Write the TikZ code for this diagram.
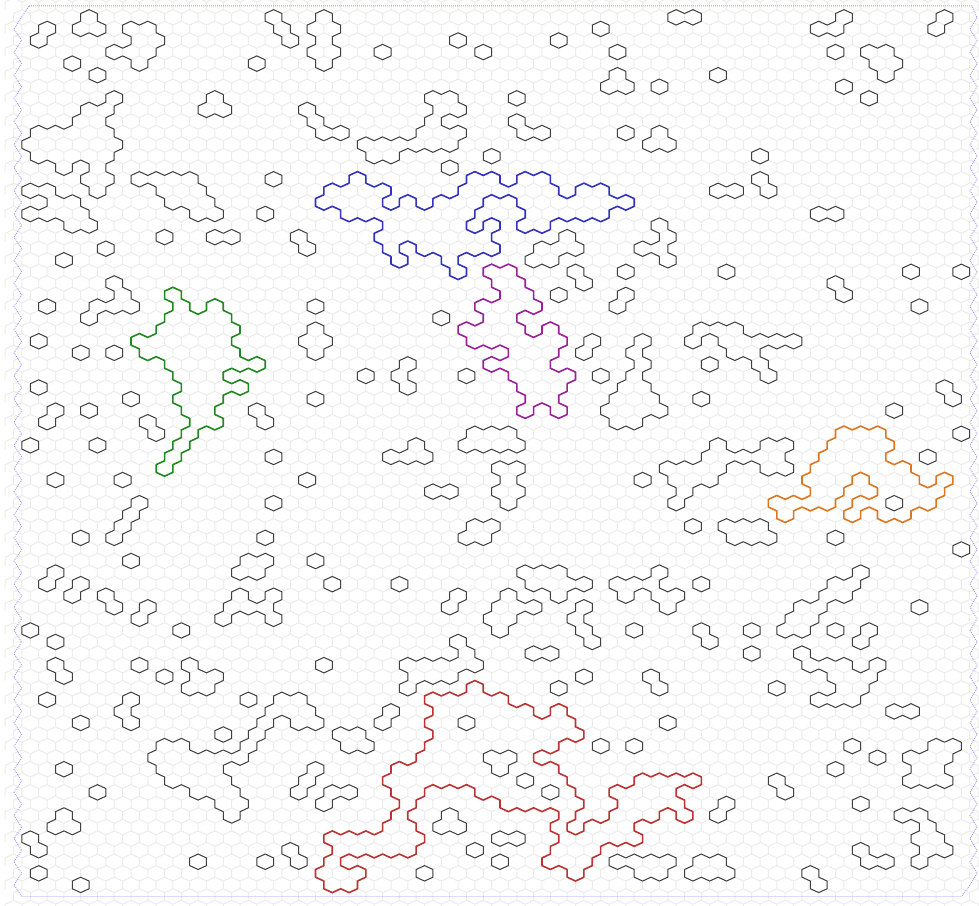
\documentclass[tikz,border=0pt]{standalone}
\definecolor{gridgray}{HTML}{ECECEC}
\definecolor{clblack}{HTML}{404040}
\definecolor{clblue}{HTML}{3333BB}
\definecolor{clpurple}{HTML}{992299}
\definecolor{clgreen}{HTML}{228822}
\definecolor{clorange}{HTML}{DD7722}
\definecolor{clred}{HTML}{BB3333}
\definecolor{clborder}{HTML}{9999FF}
\newcount\hexid
\newcount\ci
\newcount\cj
\def\rowsdo#1/#2/#3,{\ifnum#1<0 \else\rowact{\number#1}{#2}{#3}\expandafter\rowsdo\fi}
\def\markrow#1#2#3{\ci=#2\relax\loop\ifnum\ci<\numexpr#3+1\relax
  \expandafter\gdef\csname H\the\hexid:\the\ci:#1\endcsname{}\advance\ci2\relax\repeat}
\def\seg#1#2#3#4{\pgfpathmoveto{\pgfqpoint{#1}{#2}}\pgfpathlineto{\pgfqpoint{#3}{#4}}}
\def\hexdims#1{%
  \edef\cx{\the\dimexpr5.2pt+8.387pt*\ci\relax}%
  \edef\cy{\the\dimexpr-5.8pt-11.567pt*#1\relax}%
  \edef\xl{\the\dimexpr\cx-8.387pt\relax}%
  \edef\xr{\the\dimexpr\cx+8.387pt\relax}%
  \edef\yt{\the\dimexpr\cy+7.711pt\relax}%
  \edef\yu{\the\dimexpr\cy+3.856pt\relax}%
  \edef\yd{\the\dimexpr\cy-3.856pt\relax}%
  \edef\yb{\the\dimexpr\cy-7.711pt\relax}}
\def\nbr#1#2#3{\ifcsname H\the\hexid:\the\numexpr\ci+(#2)\relax:\the\numexpr#1+(#3)\relax\endcsname\expandafter\nbrskip\else\expandafter\nbrdo\fi}
\def\nbrskip#1{}
\def\nbrdo#1{#1}
\def\drawrow#1#2#3{\ci=#2\relax\loop\ifnum\ci<\numexpr#3+1\relax
  \hexdims{#1}%
  \nbr{#1}{2}{0}{\seg\xr\yu\xr\yd}%
  \nbr{#1}{-2}{0}{\seg\xl\yu\xl\yd}%
  \nbr{#1}{1}{-1}{\seg\cx\yt\xr\yu}%
  \nbr{#1}{-1}{-1}{\seg\xl\yu\cx\yt}%
  \nbr{#1}{1}{1}{\seg\cx\yb\xr\yd}%
  \nbr{#1}{-1}{1}{\seg\xl\yd\cx\yb}%
  \advance\ci2\relax\repeat}
\newcommand\cluster[3]{\global\advance\hexid1\relax
  \let\rowact\markrow\rowsdo#3,-1/0/0,%
  \begin{pgfscope}\pgfsetstrokecolor{#1}\pgfsetlinewidth{#2}\pgfsetroundcap\pgfsetroundjoin
  \let\rowact\drawrow\rowsdo#3,-1/0/0,%
  \pgfusepath{stroke}\end{pgfscope}}
\def\gridrows{%
  \begin{pgfscope}\pgfsetstrokecolor{gridgray}\pgfsetlinewidth{1pt}%
  \cj=0\relax
  \loop\ifnum\cj<79\relax
    \ifodd\cj\ci=2\relax\else\ci=1\relax\fi
    \hexdims{\cj}\seg\xl\yu\xl\yd
    \gridcells
    \pgfusepath{stroke}%
    \advance\cj1\relax
  \repeat
  \end{pgfscope}}
\def\gridcells{\ifnum\ci<117\relax
    \hexdims{\cj}%
    \pgfpathmoveto{\pgfqpoint\xl\yu}\pgfpathlineto{\pgfqpoint\cx\yt}%
    \pgfpathlineto{\pgfqpoint\xr\yu}\pgfpathlineto{\pgfqpoint\xr\yd}%
    \advance\ci2\relax
    \expandafter\gridcells\fi}
\def\borderzig#1#2{\pgfpathlineto{\pgfqpoint{\ifodd\cj #2\else #1\fi pt}{\dimexpr-5.8pt-11.567pt*\cj\relax}}}
\begin{document}
\begin{tikzpicture}[x=1pt,y=1pt]
\useasboundingbox (0,0) rectangle (979,-905);
\clip (0,0) rectangle (979,-905);
\fill[white] (0,0) rectangle (979,-905);
\gridrows
\begin{pgfscope}
\pgfsetstrokecolor{clborder}\pgfsetlinewidth{0.9pt}\pgfsetdash{{0.9pt}{1.1pt}}{0pt}
\pgfpathmoveto{\pgfqpoint{29pt}{-5.8pt}}
\pgfpathlineto{\pgfqpoint{971.7pt}{-5.8pt}}
\cj=1\relax
\loop\ifnum\cj<77\relax\borderzig{970}{977}\advance\cj1\relax\repeat
\pgfpathlineto{\pgfqpoint{961.7pt}{-896.5pt}}
\pgfpathlineto{\pgfqpoint{21.7pt}{-896.5pt}}
\cj=76\relax
\loop\ifnum\cj>1\relax\borderzig{14}{21.7}\advance\cj-1\relax\repeat
\pgfpathclose
\pgfusepath{stroke}
\end{pgfscope}
\cluster{clblack}{1pt}{2/5/5,3/4/4,1/10/10,2/9/11,2/15/17,3/16/18,4/13/17,5/16/16,5/8/8,6/11/11,
8/13/13,9/10/12,10/9/11,11/4/12,12/3/13,13/4/12,14/7/7,14/11/11,15/10/12,16/11/11,
16/3/5,17/6/8,18/3/9,19/8/10,15/16/22,16/19/23,17/20/24,18/23/25,8/25/25,9/24/26,
15/32/32,18/31/31,
20/19/19,20/25/27,20/35/35,21/36/36,21/12/12,22/7/7,24/13/13,25/14/14,26/11/15,27/10/10,
26/5/5,29/4/4,30/9/9,30/13/13,33/4/4,34/15/15,35/6/6,36/5/5,35/10/10,36/17/17,37/18/18,38/3/3,38/11/11,41/6/6,41/14/14,39/32/32,43/32/32,41/36/36,35/30/30,36/31/31,26/37/37,34/37/37,
43/16/16,44/15/15,45/14/14,46/13/13,46/9/9,46/31/31,48/15/15,48/37/37,48/29/31,49/28/30,
49/6/6,50/5/5,50/9/9,51/8/8,51/12/12,52/13/13,52/17/17,53/16/16,50/39/39,
51/28/28,51/32/32,52/27/31,53/26/26,53/32/32,54/3/3,54/21/21,55/6/6,57/6/6,58/7/7,57/16/16,58/19/19,57/38/38,
57/22/22,58/23/25,59/22/24,60/5/5,60/29/29,60/15/15,61/14/14,62/15/15,62/9/9,63/26/26,
60/33/35,61/32/36,62/31/31,62/35/37,63/30/30,64/19/21,64/29/29,65/18/28,66/19/25,67/20/26,68/23/27,69/26/28,70/27/27,
66/7/7,68/11/11,66/37/37,67/36/36,68/35/35,68/39/41,69/38/38,61/46/46,62/45/45,63/40/42,64/41/43,
70/7/7,71/6/8,72/3/3,73/4/4,74/23/23,74/31/31,75/4/4,76/9/9,73/34/34,74/35/35,
62/55/55,65/58/60,66/59/59,67/62/62,68/65/65,70/53/53,71/52/54,72/59/61,73/56/56,74/59/59,75/50/50,64/71/71,64/75/75,59/66/66,58/69/69,62/79/79,58/77/77,59/78/78,56/63/65,
55/54/54,56/55/55,57/48/56,58/49/53,59/48/48,74/73/79,75/76/78,74/83/85,75/82/86,69/86/86,70/85/85,
38/49/49,39/46/50,37/56/60,38/55/61,40/59/61,41/60/60,42/59/61,43/60/60,42/51/53,45/56/58,46/55/57,50/47/47,51/54/54,52/53/53,51/60/60,52/59/63,53/58/60,54/59/59,
49/62/66,50/63/69,51/66/66,52/69/69,53/68/68,54/69/69,55/70/70,54/75/75,
49/78/78,50/73/77,51/74/74,51/78/80,52/79/79,50/83/83,54/83/83,55/84/84,54/89/89,56/89/89,54/99/99,54/103/103,55/102/102,
49/102/102,50/99/101,51/98/100,52/95/97,53/94/96,54/93/95,56/95/95,57/96/100,57/104/104,58/99/103,59/100/102,60/97/101,
61/106/108,64/101/101,65/104/104,66/99/99,52/109/109,59/92/92,67/92/92,68/93/93,64/111/113,65/108/112,66/109/111,67/108/112,
69/102/102,70/107/109,71/110/110,72/109/111,73/110/112,74/109/109,73/102/102,74/103/105,75/96/96,76/97/97,
23/86/86,23/108/108,23/114/114,26/109/109,24/99/99,25/100/100,31/84/84,34/83/83,33/112/112,34/113/113,35/106/106,37/114/114,39/110/110,43/106/106,45/82/82,46/99/99,47/114/114,41/76/76,
28/83/87,29/82/82,29/86/94,30/87/89,31/90/90,32/91/91,38/85/85,38/91/93,39/84/92,40/79/85,40/91/93,41/80/84,42/81/81,43/80/80,45/86/90,46/87/91,
14/53/53,20/67/67,21/64/68,22/63/65,23/68/68,24/69/69,23/74/74,25/66/66,25/74/74,26/73/73,27/52/52,28/37/37,29/36/38,30/37/37,32/43/43,32/55/55,31/48/48,32/47/47,33/48/48,32/71/71,29/70/70,30/69/69,
29/76/76,30/75/75,31/76/76,32/75/75,33/74/76,34/73/77,35/72/78,36/73/75,
1/80/82,1/100/100,2/97/99,1/112/112,2/111/111,4/99/99,4/103/105,5/104/106,6/105/105,6/85/85,7/78/78,7/100/100,8/103/103,11/74/74,11/78/78,12/77/79,13/90/90,15/90/90,16/91/91,16/85/87,18/97/99,19/78/78,20/79/79,21/76/78,22/79/79,
1/32/32,2/33/33,3/34/34,1/38/38,2/37/39,3/38/38,4/37/39,5/38/38,5/30/30,4/45/45,3/54/54,4/57/57,3/66/66,2/71/71,4/73/73,6/73/73,7/72/74,
8/51/53,9/52/54,10/51/51,11/50/54,12/43/53,13/44/46,9/36/36,10/37/37,11/38/40,10/61/61,11/62/64,8/61/61,13/58/58}
\cluster{clblue}{1.6pt}{15/42/42,15/56/58,15/62/64,16/39/45,16/55/65,16/69/71,17/38/44,17/48/48,17/52/56,17/62/74,18/41/55,18/63/71,19/46/54,19/58/58,19/62/64,20/45/57,21/46/46,21/50/58,22/47/47,22/53/53,23/54/54}
\cluster{clpurple}{1.6pt}{23/58/60,24/59/61,25/60/62,26/57/63,27/58/60,28/55/61,28/65/65,29/56/66,30/61/65,31/58/64,32/61/67,33/62/66,34/63/65,35/62/62,35/66/66}
\cluster{clgreen}{1.6pt}{25/20/20,26/21/21,26/25/25,27/20/26,28/19/27,29/16/26,30/17/27,31/20/30,32/21/25,33/22/28,34/21/25,35/22/24,36/23/25,37/22/22,38/21/21,39/20/20,40/19/19}
\cluster{clorange}{1.6pt}{37/100/104,38/99/105,39/98/104,40/97/107,41/96/100,41/104/108,41/112/112,42/97/99,42/105/111,43/92/98,43/102/110,44/93/93,44/101/101,44/105/107}
\cluster{clred}{1.6pt}{59/56/56,60/51/59,61/52/62,61/66/66,62/51/67,63/52/68,64/51/65,65/50/62,66/47/65,67/46/66,67/76/82,68/47/49,68/57/67,68/73/79,69/48/48,69/60/68,69/74/80,70/47/47,70/67/67,70/73/77,70/81/81,71/46/48,71/66/66,71/70/74,72/39/49,72/67/75,73/40/48,73/66/70,74/39/39,74/65/69,75/38/42,75/68/68,76/39/41}
\end{tikzpicture}
\end{document}
